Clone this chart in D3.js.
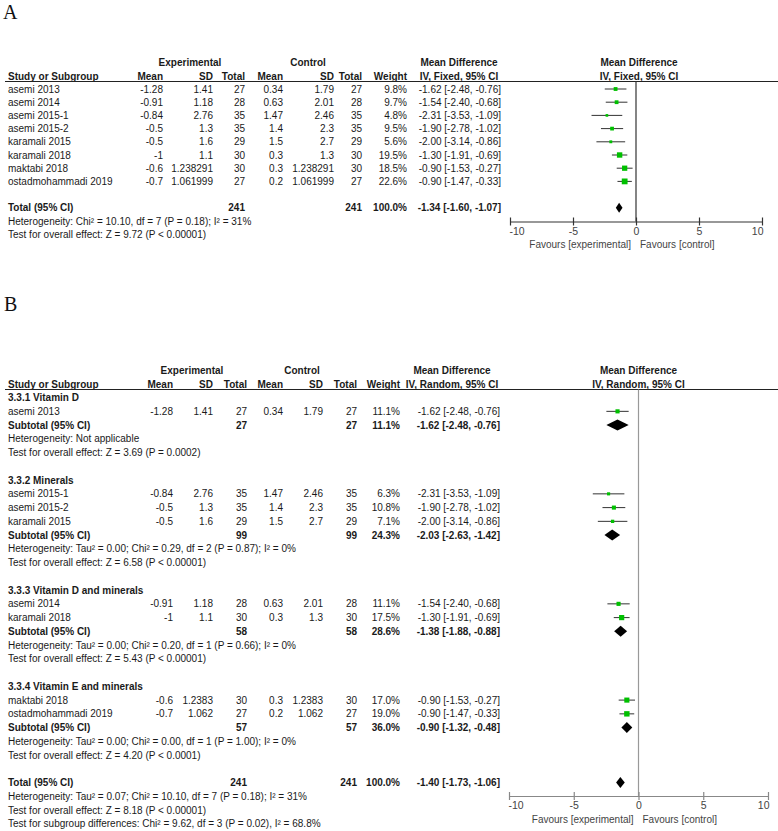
<!DOCTYPE html>
<html><head><meta charset="utf-8">
<script src="https://cdn.jsdelivr.net/npm/d3@7"></script>
<style>
body{margin:0;background:#fff}
svg{display:block}
text{font-family:"Liberation Sans",Arial,sans-serif;font-size:10px;fill:#1a1a1a}
text.b{font-weight:bold}
text.panel{font-family:"Liberation Serif","Times New Roman",serif;font-size:20px;fill:#111}
text.ax{fill:#444;font-size:10.5px}
text.fav{fill:#444}
</style>
</head><body>
<svg id="c" width="778" height="831"></svg>
<script>
// ---------- Panel A data (IV, Fixed) ----------
const aStudies = ["asemi 2013","asemi 2014","asemi 2015-1","asemi 2015-2","karamali 2015","karamali 2018","maktabi 2018","ostadmohammadi 2019"];
const aExpMean = [-1.28,-0.91,-0.84,-0.5,-0.5,-1,-0.6,-0.7];
const aExpSD = [1.41,1.18,2.76,1.3,1.6,1.1,1.238291,1.061999];
const aExpN = [27,28,35,35,29,30,30,27];
const aCtrlMean = [0.34,0.63,1.47,1.4,1.5,0.3,0.3,0.2];
const aCtrlSD = [1.79,2.01,2.46,2.3,2.7,1.3,1.238291,1.061999];
const aCtrlN = [27,28,35,35,29,30,30,27];
const aWeight = [9.8,9.7,4.8,9.5,5.6,19.5,18.5,22.6];
const aMD = [-1.62,-1.54,-2.31,-1.90,-2.00,-1.30,-0.90,-0.90];
const aLo = [-2.48,-2.40,-3.53,-2.78,-3.14,-1.91,-1.53,-1.47];
const aHi = [-0.76,-0.68,-1.09,-1.02,-0.86,-0.69,-0.27,-0.33];
const aTotal = {n1:241, n2:241, w:100.0, md:-1.34, lo:-1.60, hi:-1.07};
const aNotes = ["Heterogeneity: Chi\u00B2 = 10.10, df = 7 (P = 0.18); I\u00B2 = 31%","Test for overall effect: Z = 9.72 (P < 0.00001)"];

// ---------- Panel B data (IV, Random) ----------
const bGroupTitles = ["3.3.1 Vitamin D","3.3.2 Minerals","3.3.3 Vitamin D and minerals","3.3.4 Vitamin E and minerals"];
const bStudies = ["asemi 2013","asemi 2015-1","asemi 2015-2","karamali 2015","asemi 2014","karamali 2018","maktabi 2018","ostadmohammadi 2019"];
const bGroup = [0,1,1,1,2,2,3,3];
const bExpMean = [-1.28,-0.84,-0.5,-0.5,-0.91,-1,-0.6,-0.7];
const bExpSD = [1.41,2.76,1.3,1.6,1.18,1.1,1.2383,1.062];
const bExpN = [27,35,35,29,28,30,30,27];
const bCtrlMean = [0.34,1.47,1.4,1.5,0.63,0.3,0.3,0.2];
const bCtrlSD = [1.79,2.46,2.3,2.7,2.01,1.3,1.2383,1.062];
const bCtrlN = [27,35,35,29,28,30,30,27];
const bWeight = [11.1,6.3,10.8,7.1,11.1,17.5,17.0,19.0];
const bMD = [-1.62,-2.31,-1.90,-2.00,-1.54,-1.30,-0.90,-0.90];
const bLo = [-2.48,-3.53,-2.78,-3.14,-2.40,-1.91,-1.53,-1.47];
const bHi = [-0.76,-1.09,-1.02,-0.86,-0.68,-0.69,-0.27,-0.33];
const bSubN = [27,99,58,57];
const bSubWeight = [11.1,24.3,28.6,36.0];
const bSubMD = [-1.62,-2.03,-1.38,-0.90];
const bSubLo = [-2.48,-2.63,-1.88,-1.32];
const bSubHi = [-0.76,-1.42,-0.88,-0.48];
const bSubHet = ["Heterogeneity: Not applicable",
  "Heterogeneity: Tau\u00B2 = 0.00; Chi\u00B2 = 0.29, df = 2 (P = 0.87); I\u00B2 = 0%",
  "Heterogeneity: Tau\u00B2 = 0.00; Chi\u00B2 = 0.20, df = 1 (P = 0.66); I\u00B2 = 0%",
  "Heterogeneity: Tau\u00B2 = 0.00; Chi\u00B2 = 0.00, df = 1 (P = 1.00); I\u00B2 = 0%"];
const bSubTest = ["Test for overall effect: Z = 3.69 (P = 0.0002)",
  "Test for overall effect: Z = 6.58 (P < 0.00001)",
  "Test for overall effect: Z = 5.43 (P < 0.00001)",
  "Test for overall effect: Z = 4.20 (P < 0.0001)"];
const bTotal = {n1:241, n2:241, w:100.0, md:-1.40, lo:-1.73, hi:-1.06};
const bNotes = ["Heterogeneity: Tau\u00B2 = 0.07; Chi\u00B2 = 10.10, df = 7 (P = 0.18); I\u00B2 = 31%",
  "Test for overall effect: Z = 8.18 (P < 0.00001)",
  "Test for subgroup differences: Chi\u00B2 = 9.62, df = 3 (P = 0.02), I\u00B2 = 68.8%"];

const axisTicks = [-10,-5,0,5,10];
const axisDomain = [-10,10];

// ---------- helpers ----------
const svg = d3.select("#c");
const ci = (m,l,h) => `${m.toFixed(2)} [${l.toFixed(2)}, ${h.toFixed(2)}]`;
const pct = w => w.toFixed(1) + "%";

function drawPanel(cfg, rows) {
  const g = svg.append("g");
  const x = d3.scaleLinear().domain(axisDomain).range(cfg.range);
  const sq = d3.scaleSqrt().domain([0, d3.max(rows.filter(r => r.type === "study"), r => r.w)]).range([0, cfg.maxSq]);
  const T = (xx, yy, s, anchor, bold, cls) => g.append("text").attr("x", xx).attr("y", yy)
      .attr("text-anchor", anchor || "start").attr("class", (bold ? "b " : "") + (cls || "")).text(s);
  const C = cfg.cols;

  T(cfg.labelX, cfg.labelY, cfg.label, "start", false, "panel");
  // headers
  T(cfg.expCenter, cfg.h1, "Experimental", "middle", true);
  T(cfg.ctrlCenter, cfg.h1, "Control", "middle", true);
  T(cfg.mdCenter, cfg.h1, "Mean Difference", "middle", true);
  T(x(0) + cfg.plotHdrShift, cfg.h1, "Mean Difference", "middle", true);
  T(8, cfg.h2, "Study or Subgroup", "start", true);
  T(C.em, cfg.h2, "Mean", "end", true);
  T(C.esd, cfg.h2, "SD", "end", true);
  T(C.en, cfg.h2, "Total", "end", true);
  T(C.cm, cfg.h2, "Mean", "end", true);
  T(C.csd, cfg.h2, "SD", "end", true);
  T(C.cn, cfg.h2, "Total", "end", true);
  T(C.w, cfg.h2, "Weight", "end", true);
  T(cfg.mdCenter, cfg.h2, cfg.method, "middle", true);
  T(x(0) + cfg.plotHdrShift, cfg.h2, cfg.method, "middle", true);
  g.append("line").attr("x1", 5).attr("x2", 778).attr("y1", cfg.line).attr("y2", cfg.line)
    .attr("stroke", "#222").attr("stroke-width", 1);

  // zero line
  g.append("line").attr("x1", x(0)).attr("x2", x(0)).attr("y1", cfg.line).attr("y2", cfg.axisY)
    .attr("stroke", cfg.zeroColor).attr("stroke-width", 1.2);

  rows.forEach(r => {
    const yb = cfg.y0 + r.idx * cfg.step;
    const yc = yb - 3.6;
    if (r.type === "heading") {
      T(8, yb, r.text, "start", true);
    } else if (r.type === "note") {
      T(8, yb, r.text, "start", false);
    } else if (r.type === "study") {
      T(8, yb, r.name);
      T(C.em, yb, String(r.em), "end");
      T(C.esd, yb, String(r.esd), "end");
      T(C.en, yb, String(r.en), "end");
      T(C.cm, yb, String(r.cm), "end");
      T(C.csd, yb, String(r.csd), "end");
      T(C.cn, yb, String(r.cn), "end");
      T(C.w, yb, pct(r.w), "end");
      T(C.ci, yb, ci(r.md, r.lo, r.hi), "end");
      g.append("line").attr("x1", x(r.lo)).attr("x2", x(r.hi)).attr("y1", yc).attr("y2", yc)
        .attr("stroke", "#333").attr("stroke-width", 1);
      const s = Math.max(2, sq(r.w));
      g.append("rect").attr("x", x(r.md) - s / 2).attr("y", yc - s / 2).attr("width", s).attr("height", s)
        .attr("fill", "#00c000");
    } else if (r.type === "summary") {
      T(8, yb, r.label, "start", true);
      T(C.en, yb, String(r.n1), "end", true);
      T(C.cn, yb, String(r.n2), "end", true);
      T(C.w, yb, pct(r.w), "end", true);
      T(C.ci, yb, ci(r.md, r.lo, r.hi), "end", true);
      const h = cfg.diamondH / 2;
      g.append("path").attr("d", `M${x(r.lo)},${yc}L${x(r.md)},${yc - h}L${x(r.hi)},${yc}L${x(r.md)},${yc + h}Z`)
        .attr("fill", "#000");
    }
  });

  // axis
  const ax = g.append("g").attr("transform", `translate(0,${cfg.axisY})`)
    .call(d3.axisBottom(x).tickValues(axisTicks).tickSizeInner(4).tickSizeOuter(0).tickFormat(d3.format("d")));
  ax.select(".domain").attr("stroke", cfg.axisColor).attr("stroke-width", 1.2);
  ax.selectAll(".tick line").attr("y1", -4).attr("y2", 4).attr("stroke", cfg.axisColor).attr("stroke-width", 1.2);
  ax.selectAll(".tick text").attr("class", "ax").attr("y", 6).attr("dy", "0.71em")
    .attr("text-anchor", d => d === axisDomain[0] ? "start" : d === axisDomain[1] ? "end" : "middle")
    .attr("dx", d => d === axisDomain[0] ? -1 : d === axisDomain[1] ? 1 : 0)
    .text(d => String(d));
  ax.attr("font-family", null).attr("font-size", null);
  T(x(0) - 5, cfg.axisY + 26.5, "Favours [experimental]", "end", false, "fav");
  T(x(0) + 4, cfg.axisY + 26.5, "Favours [control]", "start", false, "fav");
}

// ---------- build Panel A rows ----------
const rowsA = [];
aStudies.forEach((n, i) => rowsA.push({type: "study", idx: i, name: n, em: aExpMean[i], esd: aExpSD[i], en: aExpN[i],
  cm: aCtrlMean[i], csd: aCtrlSD[i], cn: aCtrlN[i], w: aWeight[i], md: aMD[i], lo: aLo[i], hi: aHi[i]}));
rowsA.push({type: "summary", idx: aStudies.length + 1, label: "Total (95% CI)", ...aTotal});
aNotes.forEach((t, j) => rowsA.push({type: "note", idx: aStudies.length + 2 + j, text: t}));

drawPanel({
  label: "A", labelX: 3, labelY: 19,
  h1: 66.3, h2: 79.5, line: 81.5, y0: 92.6, step: 13.2,
  range: [510, 762], maxSq: 5.8, diamondH: 10, axisY: 221.5,
  expCenter: 190, ctrlCenter: 308, mdCenter: 459, plotHdrShift: 3, method: "IV, Fixed, 95% CI",
  cols: {em: 163, esd: 213, en: 245, cm: 283, csd: 334, cn: 362, w: 407, ci: 501},
  zeroColor: "#333", axisColor: "#333"
}, rowsA);

// ---------- build Panel B rows ----------
const rowsB = [];
let k = 0;
bGroupTitles.forEach((title, gi) => {
  rowsB.push({type: "heading", idx: k++, text: title});
  bStudies.forEach((n, i) => {
    if (bGroup[i] !== gi) return;
    rowsB.push({type: "study", idx: k++, name: n, em: bExpMean[i], esd: bExpSD[i], en: bExpN[i],
      cm: bCtrlMean[i], csd: bCtrlSD[i], cn: bCtrlN[i], w: bWeight[i], md: bMD[i], lo: bLo[i], hi: bHi[i]});
  });
  rowsB.push({type: "summary", idx: k++, label: "Subtotal (95% CI)", n1: bSubN[gi], n2: bSubN[gi],
    w: bSubWeight[gi], md: bSubMD[gi], lo: bSubLo[gi], hi: bSubHi[gi]});
  rowsB.push({type: "note", idx: k++, text: bSubHet[gi]});
  rowsB.push({type: "note", idx: k++, text: bSubTest[gi]});
  k++; // blank row
});
rowsB.push({type: "summary", idx: k++, label: "Total (95% CI)", ...bTotal});
bNotes.forEach(t => rowsB.push({type: "note", idx: k++, text: t}));

drawPanel({
  label: "B", labelX: 4, labelY: 311,
  h1: 374.3, h2: 387.5, line: 389.5, y0: 401.2, step: 13.75,
  range: [509, 768], maxSq: 5.4, diamondH: 11, axisY: 796,
  expCenter: 192, ctrlCenter: 302, mdCenter: 452, plotHdrShift: 0, method: "IV, Random, 95% CI",
  cols: {em: 173, esd: 213, en: 247, cm: 283, csd: 323, cn: 357, w: 400, ci: 500},
  zeroColor: "#999", axisColor: "#888"
}, rowsB);
</script>
</body></html>
